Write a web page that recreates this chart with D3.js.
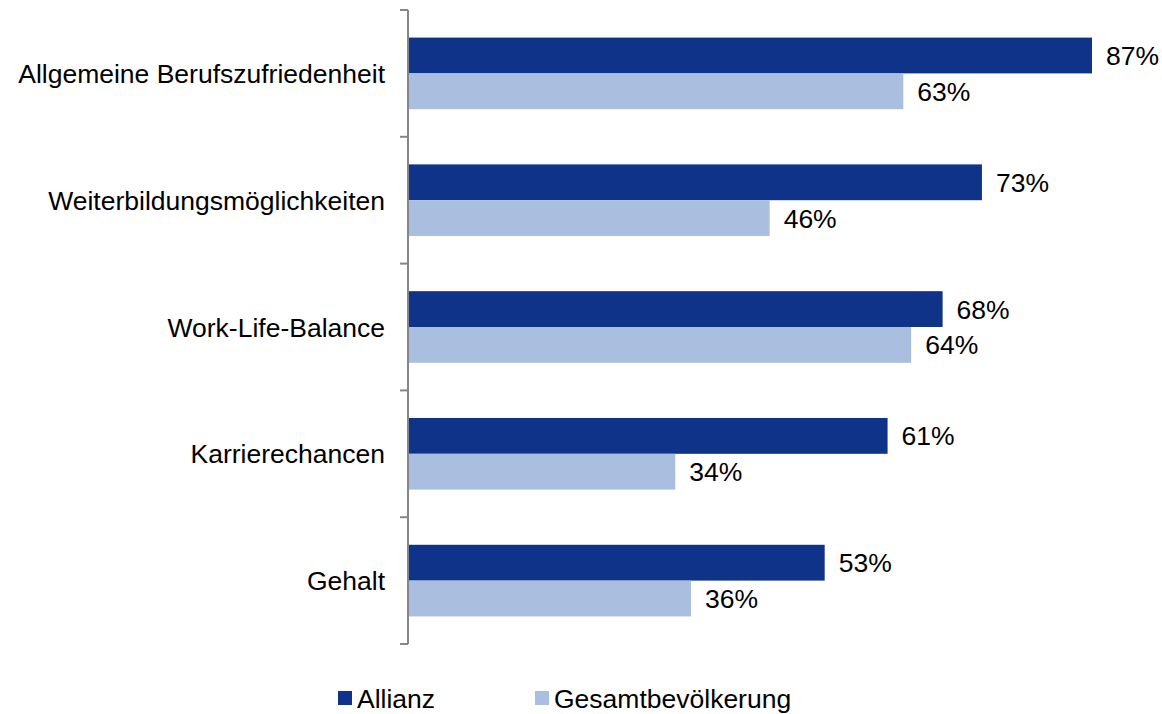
<!DOCTYPE html>
<html><head><meta charset="utf-8">
<script src="https://cdn.jsdelivr.net/npm/d3@7"></script>
<style>body{margin:0;background:#fff}svg{display:block}</style>
</head><body>
<svg id="c" width="1162" height="714"></svg>
<script>
const categories = ["Allgemeine Berufszufriedenheit","Weiterbildungsmöglichkeiten","Work-Life-Balance","Karrierechancen","Gehalt"];
const seriesNames = ["Allianz","Gesamtbevölkerung"];
const allianz = [87,73,68,61,53];
const gesamt = [63,46,64,34,36];
const colors = ["#10338A","#AABFE0"];

const svg = d3.select("#c");
const font = "'Liberation Sans', Arial, sans-serif";
const fs = 26.5;
const x0 = 408, yTop = 10, yBot = 644;
const x = d3.scaleLinear().domain([0,87]).range([x0,1092]);
const y = d3.scaleBand().domain(categories).range([yTop,yBot]).paddingInner(0.435).paddingOuter(0.2175);
const sub = d3.scaleBand().domain(seriesNames).range([0,y.bandwidth()]);
const series = [allianz, gesamt];

const g = svg.append("g");
seriesNames.forEach((s,si)=>{
  g.selectAll(".b"+si).data(categories).enter().append("rect")
    .attr("x", x(0)).attr("y", d=>y(d)+sub(s))
    .attr("width", (d,i)=>x(series[si][i])-x(0)).attr("height", sub.bandwidth())
    .attr("fill", colors[si]);
  g.selectAll(".l"+si).data(categories).enter().append("text")
    .attr("x", (d,i)=>x(series[si][i])+14).attr("y", d=>y(d)+sub(s)+sub.bandwidth()/2)
    .attr("dy","0.36em").attr("font-family",font).attr("font-size",fs).attr("fill","#000")
    .text((d,i)=>series[si][i]+"%");
});

// axis
const yAxis = d3.scaleLinear().domain([0,categories.length]).range([yTop,yBot]);
const ax = svg.append("g");
ax.append("line").attr("x1",x0).attr("x2",x0).attr("y1",yTop).attr("y2",yBot).attr("stroke","#868686").attr("stroke-width",2);
ax.selectAll(".t").data(d3.range(categories.length+1)).enter().append("line")
  .attr("x1",x0-8).attr("x2",x0).attr("y1",d=>yAxis(d)).attr("y2",d=>yAxis(d))
  .attr("stroke","#868686").attr("stroke-width",2);
ax.selectAll(".cl").data(categories).enter().append("text")
  .attr("x",385).attr("y",d=>y(d)+y.bandwidth()/2).attr("dy","0.36em")
  .attr("text-anchor","end").attr("font-family",font).attr("font-size",fs).attr("fill","#000")
  .text(d=>d);

// legend
const legX = [338,535];
seriesNames.forEach((s,i)=>{
  svg.append("rect").attr("x",legX[i]).attr("y",691).attr("width",14).attr("height",14).attr("fill",colors[i]);
  svg.append("text").attr("x",legX[i]+19).attr("y",698).attr("dy","0.36em")
    .attr("font-family",font).attr("font-size",fs).attr("fill","#000").text(s);
});
</script>
</body></html>
